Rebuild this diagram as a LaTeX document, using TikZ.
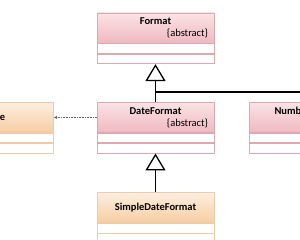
\documentclass[tikz,border=0pt]{standalone}
\usepackage{fontspec}
\setmainfont{Carlito}
\usetikzlibrary{positioning,arrows.meta}
\definecolor{rosaBorde}{HTML}{DDA9AF}
\definecolor{rosaArriba}{HTML}{FAE3E6}
\definecolor{rosaAbajo}{HTML}{EFB9C0}
\definecolor{naranjaBorde}{HTML}{EFCBA8}
\definecolor{naranjaArriba}{HTML}{FDEEDF}
\definecolor{naranjaAbajo}{HTML}{F6CDA2}

\begin{document}
\begin{tikzpicture}[x=1pt, y=-1pt, font=\fontsize{10.5}{12}\selectfont,
      cabecera/.style={draw, line width=0.6pt, minimum width=117pt, minimum height=30pt,
                       text width=105pt, align=center, inner sep=0pt},
      rosa/.style={cabecera, draw=rosaBorde, top color=rosaArriba, bottom color=rosaAbajo},
      naranja/.style={cabecera, draw=naranjaBorde, top color=naranjaArriba, bottom color=naranjaAbajo},
      compart/.style={draw, line width=0.6pt, fill=white, minimum width=117pt,
                      minimum height=9.8pt, inner sep=0pt},
      hereda/.style={-{Triangle[open, length=17pt, width=20pt, fill=white]}, line width=1.3pt},
      linea/.style={line width=1.3pt},
      usa/.style={-{Latex[length=3.5pt, width=3.5pt]}, densely dotted, gray!80!black, line width=0.6pt}]
    \useasboundingbox (0,0) rectangle (300,240);
    \clip (0,0) rectangle (300,240);
    % clases
    \node[rosa] at (155.5,28) (fmt) {\textbf{Format}\\\hspace*{0pt plus 1filll}\{abstract\}};
    \node[compart, draw=rosaBorde, below=0pt of fmt] (fmtAtr) {};
    \node[compart, draw=rosaBorde, below=0pt of fmtAtr] (fmtOps) {};
    \node[rosa, below=38pt of fmtOps] (datefmt) {\textbf{DateFormat}\\\hspace*{0pt plus 1filll}\{abstract\}};
    \node[compart, draw=rosaBorde, below=0pt of datefmt] (datefmtAtr) {};
    \node[compart, draw=rosaBorde, below=0pt of datefmtAtr] (datefmtOps) {};
    \node[rosa, right=35pt of datefmt] (numfmt) {\textbf{NumberFormat}\\\hspace*{0pt plus 1filll}\{abstract\}};
    \node[compart, draw=rosaBorde, below=0pt of numfmt] (numfmtAtr) {};
    \node[compart, draw=rosaBorde, below=0pt of numfmtAtr] (numfmtOps) {};
    \node[naranja, left=43pt of datefmt] (date) {\textbf{Date}};
    \node[compart, draw=naranjaBorde, below=0pt of date] (dateAtr) {};
    \node[compart, draw=naranjaBorde, below=0pt of dateAtr] (dateOps) {};
    \node[naranja, below=39pt of datefmtOps] (simple) {\textbf{SimpleDateFormat}};
    \node[compart, draw=naranjaBorde, below=0pt of simple] (simpleAtr) {};
    \node[compart, draw=naranjaBorde, below=0pt of simpleAtr] (simpleOps) {};
    % relaciones
    \coordinate[above=10pt of datefmt] (union);
    \draw[linea] (numfmt.north) |- (union);
    \draw[hereda] (datefmt.north) -- (fmtOps.south);
    \draw[hereda] (simple.north) -- (datefmtOps.south);
    \draw[usa] (datefmt.west) -- (date.east);
  \end{tikzpicture}
\end{document}
